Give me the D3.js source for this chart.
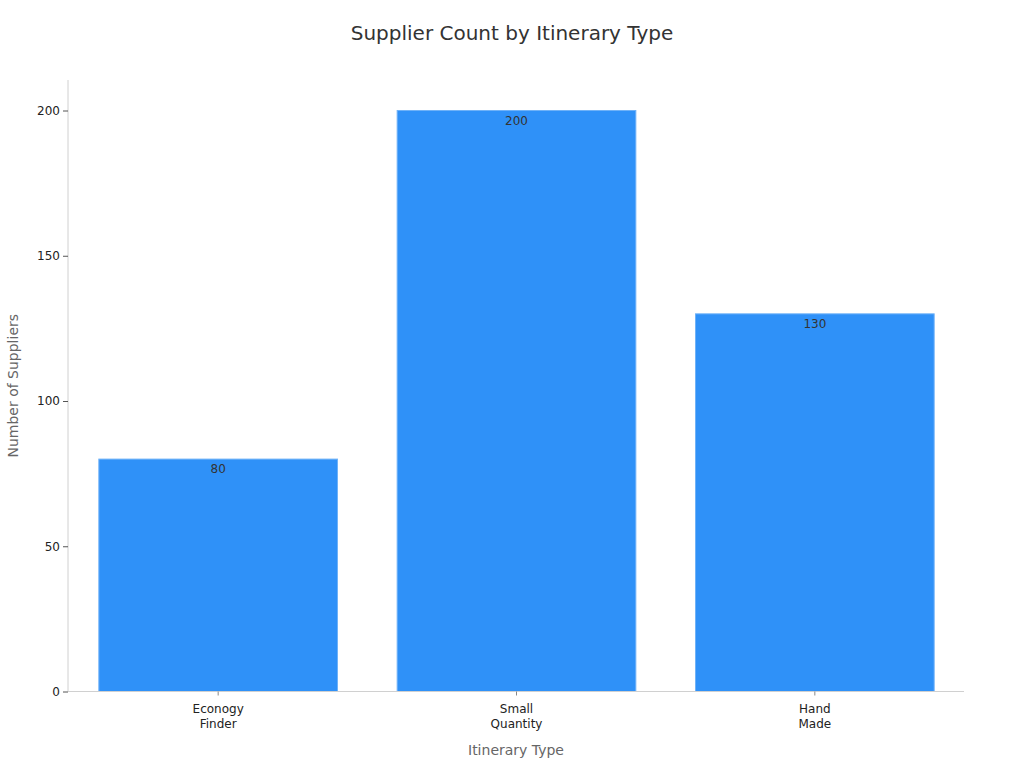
<!DOCTYPE html>
<html><head><meta charset="utf-8">
<script src="https://cdn.jsdelivr.net/npm/d3@7"></script>
<style>body{margin:0;background:#fff;font-family:"DejaVu Sans",sans-serif;}</style>
</head><body><svg id="c" width="1024" height="768"></svg>
<script>
const categories = [["Econogy","Finder"],["Small","Quantity"],["Hand","Made"]];
const values = [80, 200, 130];
const yTicks = [0, 50, 100, 150, 200];

const svg = d3.select("#c");
const m = {left:68, right:60, top:80, bottom:76.5};
const W = 1024, H = 768;
const x = d3.scaleBand().domain(d3.range(categories.length)).range([m.left+1, W-m.right]).paddingInner(0.2).paddingOuter(0.1);
const y = d3.scaleLinear().domain([0, 210.5]).range([H-m.bottom, m.top]);

svg.append("text").attr("x", 512).attr("y", 40).attr("text-anchor","middle")
  .attr("font-size", 20).attr("fill","#333").text("Supplier Count by Itinerary Type");

svg.selectAll("rect.bar").data(values).enter().append("rect")
  .attr("x",(d,i)=>x(i)).attr("width",x.bandwidth())
  .attr("y",d=>y(d)).attr("height",d=>y(0)-y(d))
  .attr("fill","#2f91f8").attr("stroke","#6fb2f8").attr("stroke-width",1);

svg.selectAll("text.val").data(values).enter().append("text")
  .attr("x",(d,i)=>x(i)+x.bandwidth()/2).attr("y",d=>y(d)+14)
  .attr("text-anchor","middle").attr("font-size",12).attr("fill","#333").text(d=>d);

// y axis
const ya = svg.append("g").attr("transform",`translate(${m.left},0)`)
  .call(d3.axisLeft(y).tickValues(yTicks).tickSize(5).tickPadding(3));
ya.select(".domain").attr("stroke","#d0d0d0").attr("d",`M0,${m.top}V${y(0)}`);
ya.selectAll(".tick line").attr("stroke","#555");
ya.selectAll(".tick text").attr("font-size",12).attr("fill","#222").attr("font-family","DejaVu Sans");

// x axis
const xa = svg.append("g").attr("transform",`translate(0,${y(0)})`)
  .call(d3.axisBottom(x).tickSize(4).tickFormat(""));
xa.select(".domain").attr("stroke","#d0d0d0").attr("d",`M${m.left},0H${W-m.right}`);
xa.selectAll(".tick line").attr("stroke","#888");
xa.selectAll(".tick").append("text").attr("fill","#222").attr("font-size",12)
  .attr("text-anchor","middle").attr("font-family","DejaVu Sans")
  .each(function(d){
    const t=d3.select(this);
    categories[d].forEach((s,k)=>t.append("tspan").attr("x",0).attr("y",21+k*15).text(s));
  });

svg.append("text").attr("x", (m.left+W-m.right)/2).attr("y", 755).attr("text-anchor","middle")
  .attr("font-size",14).attr("fill","#666").text("Itinerary Type");
svg.append("text").attr("transform",`translate(18,${(m.top+y(0))/2}) rotate(-90)`).attr("text-anchor","middle")
  .attr("font-size",14).attr("fill","#666").text("Number of Suppliers");
</script></body></html>
